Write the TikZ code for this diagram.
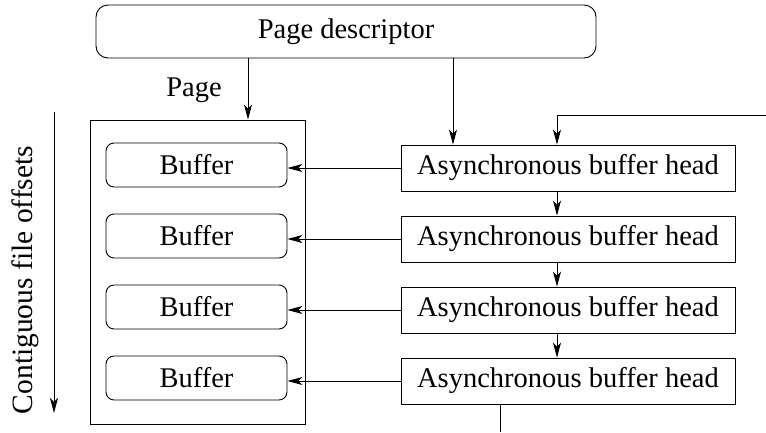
\documentclass[tikz,border=0pt]{standalone}
\usepackage{fontspec}
\setmainfont{Liberation Serif}
\usetikzlibrary{arrows.meta}

\tikzset{
  every node/.style={font=\fontsize{28.5}{32}\selectfont},
  conn/.style={line width=0.9pt, -{Stealth[length=15pt,width=8pt,inset=4pt]}},
  plain/.style={line width=0.9pt},
  descbox/.style={draw, line width=0.9pt, rounded corners=12pt, minimum width=500pt, minimum height=53pt, inner sep=0pt},
  pagebox/.style={draw, line width=0.9pt, minimum width=215pt, minimum height=304pt, inner sep=0pt},
  bufbox/.style={draw, line width=0.9pt, rounded corners=8pt, minimum width=181pt, minimum height=44pt, inner sep=0pt},
  headbox/.style={draw, line width=0.9pt, minimum width=334pt, minimum height=46pt, inner sep=0pt},
}

\begin{document}
\begin{tikzpicture}[x=1pt, y=-1pt]
  \useasboundingbox (0,0) rectangle (766,432);

  % page descriptor
  \node[descbox] (pd) at (346,31.5) {Page descriptor};

  % the page and its buffers
  \node (pagelbl) at (194,90) {Page};
  \node[pagebox] (page) at (197.5,272) {};
  \node[bufbox] (b1) at (196.5,165) {Buffer};
  \node[bufbox] (b2) at (196.5,236) {Buffer};
  \node[bufbox] (b3) at (196.5,307) {Buffer};
  \node[bufbox] (b4) at (196.5,378) {Buffer};

  % asynchronous buffer heads
  \node[headbox] (h1) at (568,168) {Asynchronous buffer head};
  \node[headbox] (h2) at (568,239) {Asynchronous buffer head};
  \node[headbox] (h3) at (568,310) {Asynchronous buffer head};
  \node[headbox] (h4) at (568,381) {Asynchronous buffer head};

  % helper coordinates for the vertical runs
  \coordinate (xpage) at (248,0);
  \coordinate (xhead) at (453,0);
  \coordinate (xchain) at (557,0);
  \coordinate (xtail) at (500,0);
  \coordinate (inlet) at (766,115);
  \coordinate (outlet) at (500,432);

  % descriptor links
  \draw[conn] (pd.south -| xpage) -- (page.north -| xpage);
  \draw[conn] (pd.south -| xhead) -- (h1.north -| xhead);

  % head to buffer links
  \draw[conn] (h1.west) -- (b1.east |- h1.west);
  \draw[conn] (h2.west) -- (b2.east |- h2.west);
  \draw[conn] (h3.west) -- (b3.east |- h3.west);
  \draw[conn] (h4.west) -- (b4.east |- h4.west);

  % chain of buffer heads
  \draw[conn] (inlet) -| (h1.north -| xchain);
  \draw[conn] (h1.south -| xchain) -- (h2.north -| xchain);
  \draw[conn] (h2.south -| xchain) -- (h3.north -| xchain);
  \draw[conn] (h3.south -| xchain) -- (h4.north -| xchain);
  \draw[plain] (h4.south -| xtail) -- (outlet);

  % file offset axis
  \coordinate (axtop) at (54,112);
  \coordinate (axbot) at (54,413);
  \draw[conn] (axtop) -- (axbot);
  \node[rotate=90, font=\fontsize{29.5}{33}\selectfont] (axlbl) at (25,280) {Contiguous file offsets};
\end{tikzpicture}
\end{document}
